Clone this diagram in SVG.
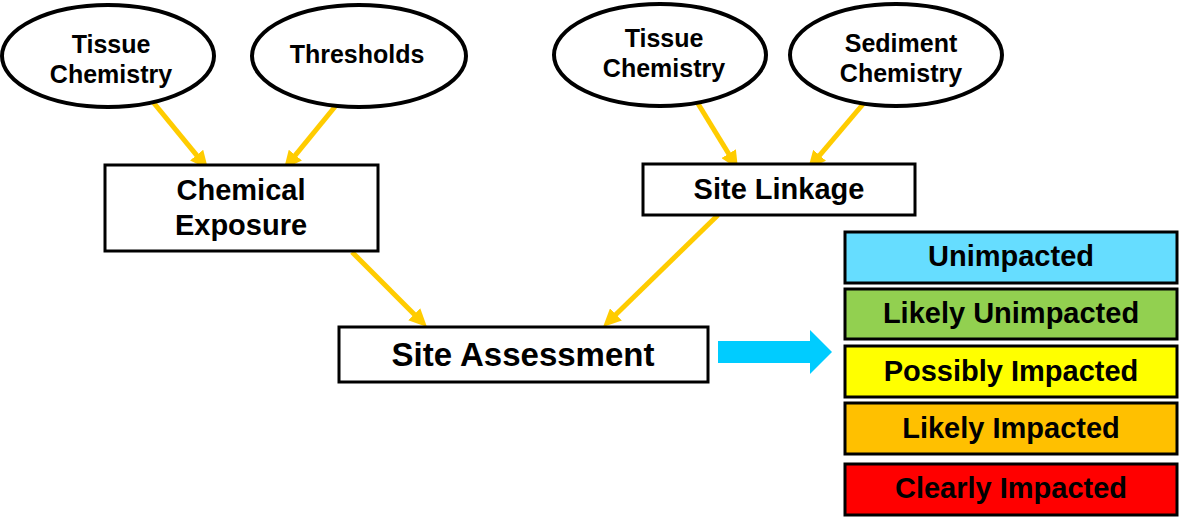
<svg xmlns="http://www.w3.org/2000/svg" width="1179" height="524" viewBox="0 0 1179 524">
<style>
text{font-family:"Liberation Sans",Arial,sans-serif;font-weight:bold;fill:#000;text-anchor:middle}
.ell{fill:#fff;stroke:#000;stroke-width:4}
.box{fill:#fff;stroke:#000;stroke-width:3}
.leg{stroke:#000;stroke-width:3}
.t24{font-size:25px}
.t28{font-size:29px}
.t32{font-size:33px}
.conn{stroke:#FFCC00;stroke-width:5;fill:none;marker-end:url(#ah)}
</style>
<defs>
<marker id="ah" markerUnits="userSpaceOnUse" markerWidth="18" markerHeight="17" viewBox="0 0 18 17" refX="8" refY="8.5" orient="auto">
<path d="M0,0 L18,8.5 L0,17 z" fill="#FFCC00"/>
</marker>
</defs>
<rect width="1179" height="524" fill="#fff"/>
<g id="connectors">
<line class="conn" x1="153" y1="102" x2="201.7" y2="161.3"/>
<line class="conn" x1="338" y1="103" x2="290.3" y2="161.3"/>
<line class="conn" x1="697" y1="102" x2="732.8" y2="160.5"/>
<line class="conn" x1="864" y1="103" x2="814.5" y2="161.4"/>
<line class="conn" x1="352" y1="252" x2="419.9" y2="319.9"/>
<line class="conn" x1="718" y1="215" x2="610.2" y2="320"/>
<path d="M718,341 H810 V330 L832,352 L810,374 V363 H718 z" fill="#00CCFF"/>
</g>
<g id="tissue1">
<ellipse class="ell" cx="108" cy="56" rx="106" ry="51"/>
<text class="t24" x="111" y="53">Tissue</text>
<text class="t24" x="111" y="83">Chemistry</text>
</g>
<g id="thresholds">
<ellipse class="ell" cx="359" cy="56" rx="107" ry="51"/>
<text class="t24" x="357" y="63">Thresholds</text>
</g>
<g id="tissue2">
<ellipse class="ell" cx="660" cy="55" rx="106" ry="51"/>
<text class="t24" x="664" y="47">Tissue</text>
<text class="t24" x="664" y="77">Chemistry</text>
</g>
<g id="sediment">
<ellipse class="ell" cx="896" cy="55" rx="106" ry="51"/>
<text class="t24" x="901" y="52">Sediment</text>
<text class="t24" x="901" y="82">Chemistry</text>
</g>
<g id="chemExposure">
<rect class="box" x="105" y="165" width="273" height="86"/>
<text class="t28" x="241" y="200">Chemical</text>
<text class="t28" x="241" y="235">Exposure</text>
</g>
<g id="siteLinkage">
<rect class="box" x="643" y="164" width="272" height="51"/>
<text class="t28" x="779" y="199">Site Linkage</text>
</g>
<g id="siteAssessment">
<rect class="box" x="339" y="327" width="369" height="55"/>
<text class="t32" x="523" y="366">Site Assessment</text>
</g>
<g id="unimpacted">
<rect class="leg" x="845" y="232" width="332" height="51" fill="#66DDFF"/>
<text class="t28" x="1011" y="266">Unimpacted</text>
</g>
<g id="likelyUnimpacted">
<rect class="leg" x="845" y="289" width="332" height="50" fill="#92D050"/>
<text class="t28" x="1011" y="323">Likely Unimpacted</text>
</g>
<g id="possiblyImpacted">
<rect class="leg" x="845" y="346" width="332" height="51" fill="#FFFF00"/>
<text class="t28" x="1011" y="381">Possibly Impacted</text>
</g>
<g id="likelyImpacted">
<rect class="leg" x="845" y="403" width="332" height="51" fill="#FFC000"/>
<text class="t28" x="1011" y="438">Likely Impacted</text>
</g>
<g id="clearlyImpacted">
<rect class="leg" x="845" y="464" width="332" height="51" fill="#FF0000"/>
<text class="t28" x="1011" y="498">Clearly Impacted</text>
</g>
</svg>
